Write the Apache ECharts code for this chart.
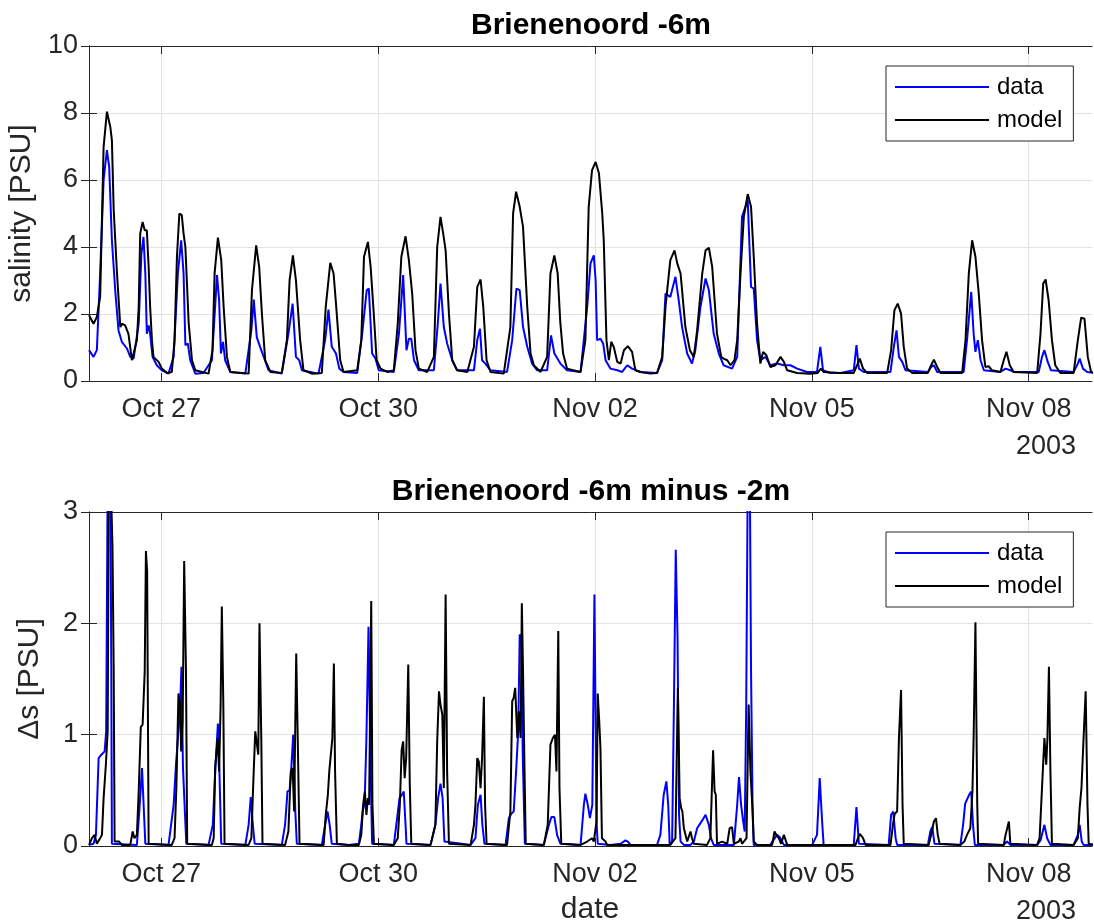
<!DOCTYPE html>
<html>
<head>
<meta charset="utf-8">
<title>Brienenoord salinity</title>
<script src="https://cdn.jsdelivr.net/npm/echarts@6/dist/echarts.min.js"></script>
<style>
  html, body { margin: 0; padding: 0; background: #fff; }
  #chart { width: 1094px; height: 924px; }
</style>
</head>
<body>
<div id="chart"></div>
<script>
// x values are hours since 2003-10-26 00:00
const tickHours = [24, 96, 168, 240, 312]
const yearLabel = '2003'

// salinity at -6m [PSU]
const salData = [
  [0,0.92],[1.5,0.72],[2.6,0.92],[3.7,3.21],[4.85,6.0],[5.95,6.89],[6.7,6.39],[7.6,4.2],[8.7,2.71],[9.8,1.51],[10.9,1.17],[12.6,0.97],[13.7,0.72],[14.8,0.67],[16.5,1.71],[17.4,3.8],[18.1,4.3],[18.7,3.21],[19.2,1.41],[19.8,1.66],[20.3,1.41],[21.1,0.72],[22.5,0.47],[24.2,0.32],[26.4,0.22],[28.1,0.72],[29.5,3.21],[30.6,4.2],[31.4,3.21],[32.0,1.07],[32.8,1.12],[33.6,0.62],[35.3,0.22],[38.0,0.24],[40.8,0.62],[42.5,3.16],[43.2,2.41],[43.8,0.82],[44.5,1.17],[45.2,0.62],[46.9,0.27],[51.9,0.22],[53.9,1.51],[54.7,2.43],[55.7,1.31],[56.8,1.02],[58.0,0.72],[59.6,0.32],[64.0,0.22],[66.2,1.41],[67.6,2.31],[68.7,0.72],[69.8,0.62],[70.7,0.32],[76.2,0.22],[78.4,1.22],[79.5,2.13],[80.6,1.02],[82.0,0.82],[83.1,0.37],[84.5,0.27],
  [89.05,0.24],[90.7,1.41],[92.2,2.71],[92.9,2.76],[94.0,0.82],[95.1,0.67],[96.2,0.32],[101.2,0.27],[102.9,1.41],[104.3,3.16],[105.4,0.92],[106.2,1.26],[107.0,1.26],[107.9,0.62],[109.5,0.32],[114.5,0.32],[115.8,1.71],[116.7,2.91],[117.8,1.61],[118.9,1.12],[120.6,0.62],[122.2,0.32],[127.8,0.32],[128.9,1.22],[129.8,1.56],[130.5,0.62],[131.6,0.52],[133.3,0.32],[138.8,0.27],[140.5,1.22],[141.9,2.76],[143.0,2.71],[144.1,1.61],[145.5,1.02],[147.1,0.52],[148.8,0.32],[152.1,0.32],[153.4,1.36],[154.5,0.82],[156.5,0.52],[158.7,0.32],[163.2,0.27],[165.4,2.21],[166.5,3.51],
  [167.6,3.75],[168.2,3.01],[168.7,1.22],[169.8,1.26],[170.7,1.12],[171.5,0.62],[173.1,0.37],[175.4,0.32],[177.0,0.27],[178.7,0.47],[180.3,0.37],[183.1,0.27],[188.6,0.24],[190.3,0.62],[191.4,2.61],[193.0,2.51],[194.7,3.11],[195.8,2.41],[196.9,1.61],[198.6,0.82],[200.2,0.52],[201.3,0.92],[203.0,2.21],[204.7,3.06],[205.8,2.71],[207.4,1.41],[209.1,0.82],[210.7,0.47],[213.5,0.37],[215.2,0.72],[216.8,4.9],[218.7,5.4],[219.8,2.81],[220.7,2.76],[221.8,1.22],[222.9,0.62],[224.6,0.72],[226.2,0.47],[228.4,0.52],[230.7,0.47],[232.9,0.47],[235.1,0.37],[238.4,0.27],[241.7,0.27],[242.8,1.02],[243.7,0.32],[246.1,0.24],[249.5,0.24],
  [253.9,0.32],[254.8,1.07],[255.6,0.37],[257.2,0.27],[266.1,0.27],[267.2,1.02],[268.1,1.51],[268.9,0.72],[270.0,0.57],[271.1,0.32],[278.5,0.27],[279.6,0.42],[280.5,0.47],[281.6,0.27],[290.4,0.27],[291.5,1.22],[292.9,2.66],[293.7,1.41],[294.3,0.87],[295.1,1.22],[296.0,0.62],[297.1,0.32],[302.6,0.27],[304.3,0.37],[305.9,0.32],[307.0,0.27],[315.3,0.27],[316.4,0.72],[317.2,0.92],[318.3,0.57],[319.4,0.32],[326.9,0.27],[328.3,0.52],[328.9,0.67],[330.0,0.37],[331.4,0.27],[333.8,0.24]
]
const salModel = [
  [0,1.96],[1.5,1.71],[2.6,1.91],[3.7,2.51],[4.85,6.99],[5.95,8.04],[7.06,7.59],[7.6,7.19],[8.2,5.1],[9.3,3.21],[10.4,1.61],[10.9,1.71],[12.0,1.66],[13.1,1.41],[14.25,0.62],[14.8,0.57],[15.9,1.22],[16.5,2.21],[17.0,4.4],[17.8,4.75],[18.5,4.5],[19.2,4.5],[19.8,3.41],[20.3,2.21],[20.9,1.22],[21.4,0.72],[23.1,0.57],[24.2,0.37],[25.9,0.24],[27.5,0.27],[28.4,1.22],[29.2,3.71],[30.0,5.0],[30.8,4.95],[31.4,4.4],[32.0,4.0],[33.1,1.71],[34.2,0.62],[35.3,0.32],[37.5,0.27],[39.7,0.22],[41.0,0.92],[41.7,3.21],[42.8,4.28],[43.9,3.61],[44.7,2.21],[45.8,0.72],[46.9,0.27],[50.8,0.24],[53.0,0.22],[54.1,2.71],[55.5,4.05],[56.5,3.41],[57.4,2.01],[58.5,0.62],[60.2,0.27],[64.0,0.24],[65.7,1.22],[66.6,3.01],[67.7,3.75],[68.7,3.01],[70.1,1.22],[71.2,0.32],[74.0,0.22],[77.3,0.24],[78.6,2.21],[80.1,3.53],[81.2,3.21],[82.0,2.31],[83.4,0.62],[84.5,0.27],
  [89.05,0.32],[90.4,1.22],[91.3,3.71],[92.6,4.15],[93.5,3.41],[94.4,2.21],[95.5,0.62],[96.8,0.37],[99.0,0.27],[101.2,0.32],[102.5,1.71],[103.7,3.71],[105.1,4.32],[106.2,3.61],[107.3,2.61],[108.4,0.92],[109.5,0.37],[112.3,0.27],[114.5,0.72],[115.6,4.0],[116.7,4.9],[117.6,4.4],[118.4,3.9],[119.5,2.01],[120.6,0.62],[122.2,0.32],[125.6,0.27],[127.8,1.02],[128.9,2.81],[130.0,3.03],[130.9,2.21],[132.0,0.62],[133.3,0.27],[137.7,0.22],[139.9,1.61],[140.8,5.0],[141.8,5.65],[143.0,5.2],[144.1,4.6],[145.5,2.21],[146.6,0.82],[147.7,0.47],[149.9,0.27],[152.1,0.72],[153.2,3.21],[154.5,3.75],[155.6,3.21],[156.5,1.71],[157.4,0.82],[158.7,0.37],[163.2,0.27],[164.8,1.22],[165.9,5.2],[167.0,6.29],
  [168.2,6.54],[169.3,6.2],[170.4,5.0],[170.9,4.2],[171.8,1.22],[172.6,0.62],[173.4,1.17],[174.2,1.02],[175.4,0.57],[176.5,0.52],[177.6,0.92],[178.9,1.04],[180.3,0.87],[181.4,0.32],[183.1,0.27],[186.4,0.22],[188.6,0.24],[190.3,0.72],[191.4,2.21],[193.0,3.61],[194.4,3.9],[195.3,3.51],[196.4,3.21],[198.0,1.61],[199.5,0.92],[200.8,0.72],[201.9,1.51],[203.6,3.21],[204.7,3.9],[205.8,3.98],[206.9,3.41],[208.5,1.41],[209.9,0.72],[210.7,0.67],[211.9,0.62],[213.0,0.47],[214.3,0.62],[215.2,1.22],[216.3,3.21],[217.4,4.9],[218.7,5.58],[219.8,5.2],[220.7,3.71],[221.8,1.71],[222.9,0.52],[223.8,0.87],[224.9,0.77],[226.2,0.42],[227.9,0.47],[229.6,0.72],[230.7,0.57],[231.8,0.32],[235.1,0.24],[239.5,0.22],[241.9,0.24],[243.0,0.37],[243.9,0.27],[249.5,0.24],
  [253.9,0.24],[255.0,0.47],[255.9,0.67],[257.0,0.37],[258.4,0.24],[265.0,0.24],[266.3,0.92],[267.4,2.11],[268.5,2.31],[269.6,2.01],[270.5,1.02],[271.6,0.37],[273.3,0.24],[278.5,0.24],[279.6,0.47],[280.5,0.64],[281.6,0.42],[282.7,0.24],[289.9,0.24],[291.0,1.22],[292.1,3.21],[293.2,4.2],[294.3,3.71],[295.4,2.61],[296.5,1.22],[297.6,0.42],[298.7,0.44],[299.8,0.32],[302.6,0.27],[303.7,0.62],[304.6,0.87],[305.7,0.47],[307.0,0.27],[314.8,0.24],[315.9,1.41],[316.8,2.91],[317.6,3.03],[318.6,2.41],[319.7,1.22],[320.8,0.47],[322.5,0.24],[326.9,0.24],[328.3,1.22],[329.4,1.89],[330.5,1.86],[331.6,0.72],[332.7,0.27],[333.8,0.24]
]

// difference -6m minus -2m [PSU]
const dsData = [
  [0,0.01],[1.5,0.02],[2.3,0.1],[3.2,0.79],[4.1,0.82],[5.2,0.85],[5.7,1.03],[6.2,3.3],[7.1,3.3],[7.4,1.57],[7.6,0.02],[15.9,0.01],[16.7,0.31],[17.6,0.7],[18.1,0.71],[18.7,0.02],[26.4,0.01],[28.1,0.37],[28.9,0.74],[29.5,0.73],[30.2,1.21],[30.7,1.61],[31.2,0.7],[31.7,0.7],[32.3,0.02],[39.7,0.01],[41.1,0.19],[41.9,0.67],[42.8,1.1],[43.3,0.67],[43.9,0.02],[51.9,0.01],[53.0,0.19],[53.7,0.44],[54.4,0.19],[55.0,0.02],[64.0,0.01],[65.1,0.19],[65.9,0.49],[66.6,0.5],[67.1,0.67],[67.8,1.0],[68.5,0.31],[69.0,0.02],[77.3,0.01],[78.4,0.19],[79.2,0.31],[79.9,0.19],[80.6,0.02],[86.2,0.01],
  [89.6,0.02],[90.4,0.19],[90.9,0.32],[91.5,0.37],[92.1,0.97],[92.8,1.97],[93.5,0.67],[94.0,0.02],[101.2,0.01],[102.3,0.25],[103.1,0.43],[103.9,0.46],[104.5,0.49],[105.1,0.19],[105.4,0.02],[113.4,0.01],[115.0,0.19],[115.9,0.43],[116.7,0.56],[117.4,0.43],[118.0,0.04],[126.7,0.01],[128.3,0.07],[129.1,0.37],[130.0,0.46],[130.6,0.19],[131.3,0.02],[138.3,0.01],[139.4,0.25],[140.2,0.29],[141.0,0.31],[141.8,0.67],[142.5,1.03],[143.0,1.9],[143.6,1.87],[144.0,0.82],[144.7,0.02],[151.0,0.01],[152.7,0.19],[153.5,0.26],[154.5,0.26],[155.4,0.1],[156.5,0.02],[163.2,0.01],[164.3,0.37],[164.8,0.47],[165.6,0.37],[166.3,0.25],
  [167.1,0.37],[167.8,2.26],[168.5,0.22],[168.9,0.02],[173.1,0.01],[176.5,0.02],[178.1,0.05],[178.9,0.04],[179.8,0.01],[188.6,0.01],[189.7,0.1],[190.8,0.46],[191.7,0.58],[192.3,0.37],[192.8,0.01],[193.6,0.04],[194.2,1.27],[194.8,2.66],[195.4,1.87],[195.9,0.28],[196.4,0.04],[197.5,0.01],[199.7,0.01],[200.8,0.04],[201.9,0.16],[203.6,0.23],[204.7,0.28],[205.8,0.19],[206.5,0.07],[207.4,0.01],[214.1,0.01],[215.2,0.37],[215.8,0.62],[216.5,0.37],[217.2,0.22],[217.7,0.13],[218.2,1.27],[218.7,3.3],[219.4,3.3],[219.8,1.57],[220.3,0.37],[220.7,0.01],[226.2,0.01],[228.4,0.1],[229.3,0.08],[230.1,0.04],[230.7,0.01],[240.1,0.01],[241.7,0.1],[242.6,0.61],[243.4,0.22],[243.9,0.01],[249.5,0.01],
  [253.9,0.01],[254.8,0.35],[255.6,0.02],[265.5,0.01],[266.3,0.28],[267.0,0.31],[267.8,0.07],[268.3,0.01],[278.5,0.01],[279.4,0.14],[280.0,0.17],[280.7,0.02],[289.3,0.01],[290.2,0.19],[290.9,0.38],[291.5,0.38],[292.2,0.46],[292.9,0.49],[293.5,0.19],[294.1,0.01],[303.7,0.01],[304.8,0.04],[305.9,0.01],[314.8,0.01],[315.9,0.05],[317.2,0.19],[318.1,0.07],[319.2,0.01],[326.9,0.01],[328.3,0.1],[328.9,0.19],[329.6,0.04],[330.2,0.01],[333.8,0.01]
]
const dsModel = [
  [0,0.01],[1.0,0.07],[1.86,0.1],[2.6,0.02],[3.7,0.07],[4.3,0.1],[4.85,0.43],[5.6,0.73],[6.2,1.03],[6.6,3.4],[7.3,3.2],[7.8,2.68],[8.2,1.57],[8.5,0.04],[10.0,0.04],[10.9,0.01],[13.7,0.01],[14.5,0.13],[15.1,0.07],[15.9,0.1],[16.5,0.49],[17.2,1.07],[17.8,1.09],[18.5,1.57],[18.9,2.65],[19.3,2.47],[19.8,0.02],[27.5,0.01],[28.4,0.07],[29.0,0.52],[29.7,1.37],[30.3,1.27],[30.6,0.85],[31.1,1.12],[31.6,2.56],[32.2,1.57],[32.6,0.02],[40.8,0.01],[41.4,0.07],[41.9,0.71],[42.7,0.97],[43.2,0.67],[43.7,1.27],[44.1,2.15],[44.6,1.27],[45.0,0.02],[53.0,0.01],[53.9,0.07],[54.6,0.61],[55.2,1.03],[55.7,1.03],[56.2,0.82],[56.6,2.0],[57.2,0.97],[57.6,0.02],[65.1,0.01],[66.2,0.13],[67.0,0.67],[67.6,0.7],[68.1,0.31],[68.8,1.73],[69.3,0.97],[69.9,0.02],[77.9,0.01],[78.6,0.28],[79.3,0.46],[79.8,0.68],[80.4,0.68],[80.8,0.97],[81.3,1.64],[81.7,0.67],[82.3,0.02],[86.2,0.01],
  [89.6,0.01],[90.4,0.1],[91.0,0.37],[91.6,0.49],[92.1,0.28],[92.6,0.43],[93.0,0.37],[93.7,2.2],[94.1,0.37],[94.6,0.02],[101.2,0.01],[102.5,0.07],[103.2,0.37],[103.8,0.86],[104.3,0.94],[104.8,0.61],[105.3,0.79],[106.0,1.63],[106.5,0.55],[107.0,0.02],[113.4,0.01],[115.0,0.19],[115.6,0.94],[116.2,1.39],[116.7,1.27],[117.3,1.18],[117.8,0.52],[118.4,2.26],[118.9,0.67],[119.5,0.02],[126.7,0.01],[127.8,0.19],[128.3,0.37],[128.9,0.79],[129.4,0.76],[130.0,0.52],[130.5,0.79],[131.1,1.34],[131.5,0.37],[132.0,0.02],[138.8,0.01],[139.9,0.31],[140.5,1.3],[141.0,1.33],[141.5,1.42],[142.2,0.97],[142.7,1.21],[143.3,0.97],[143.7,2.18],[144.1,1.57],[144.6,0.67],[145.0,0.02],[151.0,0.01],[152.3,0.19],[153.2,0.91],[154.0,0.97],[154.7,1.0],[155.2,0.67],[155.8,1.93],[156.2,0.52],[156.8,0.02],[163.2,0.01],[165.4,0.04],[167.0,0.07],
  [167.6,0.04],[168.5,0.22],[168.9,1.37],[169.4,1.12],[169.8,0.88],[170.3,0.07],[170.9,0.08],[171.5,0.04],[172.0,0.01],[193.0,0.01],[194.7,0.07],[195.5,1.42],[196.1,0.43],[196.6,0.34],[197.0,0.31],[197.5,0.16],[198.6,0.04],[199.7,0.13],[200.2,0.07],[200.8,0.02],[205.2,0.01],[206.3,0.07],[207.2,0.86],[207.7,0.49],[208.1,0.46],[208.5,0.02],[210.2,0.04],[211.9,0.02],[212.7,0.16],[213.5,0.17],[214.1,0.02],[215.7,0.04],[216.3,0.07],[216.8,0.02],[218.3,0.07],[219.0,1.27],[219.6,0.67],[220.2,0.37],[220.7,0.04],[221.8,0.01],[226.8,0.01],[227.6,0.13],[228.2,0.1],[229.0,0.07],[229.8,0.02],[230.7,0.1],[231.2,0.1],[231.8,0.01],[249.5,0.01],
  [254.5,0.01],[255.3,0.07],[255.9,0.11],[256.5,0.11],[257.0,0.07],[257.8,0.01],[266.1,0.01],[266.9,0.19],[267.5,0.29],[268.3,0.31],[268.9,0.97],[269.6,1.4],[270.1,0.37],[270.5,0.02],[278.8,0.01],[279.6,0.1],[280.5,0.22],[281.2,0.25],[281.8,0.1],[282.4,0.02],[289.3,0.01],[290.6,0.04],[291.5,0.1],[292.6,0.16],[293.3,0.49],[293.7,0.97],[294.3,2.01],[294.9,0.37],[295.2,0.02],[303.7,0.01],[304.3,0.1],[304.8,0.11],[305.4,0.22],[305.9,0.02],[314.8,0.01],[315.6,0.07],[316.4,0.52],[317.2,0.97],[317.8,0.73],[318.2,0.97],[318.7,1.61],[319.2,0.67],[319.7,0.02],[326.9,0.01],[328.3,0.07],[328.9,0.34],[329.5,0.52],[330.2,0.97],[330.9,1.39],[331.5,0.37],[331.9,0.02],[333.8,0.01]
]

const FONT = '"Liberation Sans", Arial, Helvetica, sans-serif'
const AX = '#262626'
const GRID_C = '#e2e2e2'
const TICK_FS = 27
const LABEL_FS = 30
const T0 = Date.UTC(2003, 9, 26)
const MONTHS = ['Jan','Feb','Mar','Apr','May','Jun','Jul','Aug','Sep','Oct','Nov','Dec']

const hourLabel = (h) => {
    const d = new Date(T0 + h * 3600000)
    return MONTHS[d.getUTCMonth()] + ' ' + String(d.getUTCDate()).padStart(2, '0')
}

const makeX = (gi) => {
    const base = {
        type: 'value', gridIndex: gi, min: 0, max: 333,
        axisLine: { show: true, onZero: false, lineStyle: { color: AX, width: 1 } },
        axisTick: { show: true, inside: true, length: 8, customValues: tickHours, lineStyle: { color: AX } },
        splitLine: { show: false }
    }
    return [
        { ...base, position: 'bottom',
          axisLabel: { customValues: tickHours, formatter: hourLabel, fontSize: TICK_FS, color: AX, fontFamily: FONT, margin: 15 },
          splitLine: { show: true, lineStyle: { color: GRID_C, width: 1 } } },
        { ...base, position: 'top', axisLabel: { show: false } }
    ]
}

const makeY = (gi, max, step, name) => {
    const base = {
        type: 'value', gridIndex: gi, min: 0, max: max, interval: step,
        axisLine: { show: true, lineStyle: { color: AX, width: 1 } },
        axisTick: { show: true, inside: true, length: 8, lineStyle: { color: AX } },
        splitLine: { show: false }
    }
    return [
        { ...base, position: 'left', name: name, nameLocation: 'middle', nameGap: 44,
          nameTextStyle: { fontSize: LABEL_FS, color: AX, fontFamily: FONT },
          axisLabel: { fontSize: TICK_FS, color: AX, fontFamily: FONT, margin: 11 },
          splitLine: { show: true, lineStyle: { color: GRID_C, width: 1 } } },
        { ...base, position: 'right', axisLabel: { show: false } }
    ]
}

const makeLine = (name, data, xi, yi, color) => ({
    type: 'line', name: name, data: data, xAxisIndex: xi, yAxisIndex: yi,
    symbol: 'none', showSymbol: false, clip: true,
    lineStyle: { color: color, width: 2 }, itemStyle: { color: color }
})

const makeLegend = (top) => ({
    left: 886, top: top, orient: 'vertical', data: ['data', 'model'],
    icon: 'rect', itemWidth: 94, itemHeight: 2, itemGap: 9,
    padding: [9, 11, 9, 9], borderColor: AX, borderWidth: 1, backgroundColor: '#fff',
    selectedMode: false,
    textStyle: { fontSize: 24, color: '#000', fontFamily: FONT, padding: [0, 0, 0, 3] }
})

const titleStyle = { fontSize: 30, fontWeight: 'bold', color: '#000', fontFamily: FONT }

const chart = echarts.init(document.getElementById('chart'), null, { renderer: 'canvas' })

chart.setOption({
    animation: false,
    backgroundColor: '#fff',
    title: [
        { text: 'Brienenoord -6m', left: 591, top: 11, textAlign: 'center', padding: 0, textStyle: titleStyle },
        { text: 'Brienenoord -6m minus -2m', left: 591, top: 477, textAlign: 'center', padding: 0, textStyle: titleStyle }
    ],
    legend: [makeLegend(66), makeLegend(532)],
    grid: [
        { left: 89, top: 46, width: 1003, height: 335, outerBoundsMode: 'none' },
        { left: 89, top: 512, width: 1003, height: 334, outerBoundsMode: 'none' }
    ],
    xAxis: [...makeX(0), ...makeX(1)],
    yAxis: [...makeY(0, 10, 2, 'salinity [PSU]'), ...makeY(1, 3, 1, 'Δs [PSU]')],
    series: [
        makeLine('data', salData, 0, 0, '#0000ff'),
        makeLine('model', salModel, 0, 0, '#000000'),
        makeLine('data', dsData, 2, 2, '#0000ff'),
        makeLine('model', dsModel, 2, 2, '#000000')
    ],
    graphic: [
        { type: 'text', x: 1076, y: 447, style: { text: yearLabel, font: TICK_FS + 'px ' + FONT, fill: AX, textAlign: 'right', textVerticalAlign: 'middle' } },
        { type: 'text', x: 1076, y: 912, style: { text: yearLabel, font: TICK_FS + 'px ' + FONT, fill: AX, textAlign: 'right', textVerticalAlign: 'middle' } },
        { type: 'text', x: 590, y: 910, style: { text: 'date', font: LABEL_FS + 'px ' + FONT, fill: AX, textAlign: 'center', textVerticalAlign: 'middle' } }
    ]
})
</script>
</body>
</html>
